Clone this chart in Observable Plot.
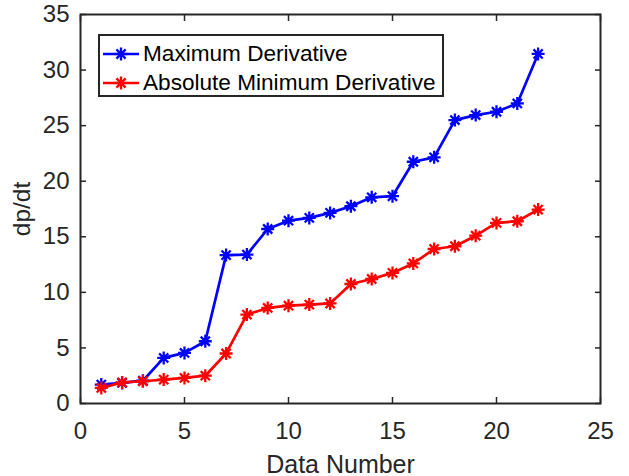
<!DOCTYPE html>
<html>
<head>
<meta charset="utf-8">
<script src="https://cdn.jsdelivr.net/npm/d3@7"></script>
<script src="https://cdn.jsdelivr.net/npm/@observablehq/plot@0.6"></script>
<style>
  body { margin: 0; background: #ffffff; }
  #wrap { position: relative; width: 629px; height: 476px; font-family: "Liberation Sans", Arial, Helvetica, sans-serif; }
  #chart svg g[aria-label="x-axis tick label"],
  #chart svg g[aria-label="y-axis tick label"] { font-size: 24px; }
  #chart svg g[aria-label="x-axis label"] { font-size: 25px; }
  #chart svg g[aria-label="y-axis label"] { font-size: 24.5px; }
  #legend { position: absolute; left: 98px; top: 34px; width: 342px; height: 59px; border: 2px solid #262626; background: #ffffff; }
  #legend .row { position: absolute; left: 0; height: 28px; display: flex; align-items: center; }
  #legend .row span { font-size: 22.6px; color: #000000; white-space: nowrap; }
</style>
</head>
<body>
<div id="wrap">
  <div id="chart"></div>
  <div id="legend"></div>
</div>
<script>
// ---- data ----
const dataNumber = [1, 2, 3, 4, 5, 6, 7, 8, 9, 10, 11, 12, 13, 14, 15, 16, 17, 18, 19, 20, 21, 22];
const maxDerivative = [1.7, 1.85, 2.05, 4.1, 4.55, 5.6, 13.35, 13.4, 15.7, 16.45, 16.7, 17.15, 17.75, 18.55, 18.65, 21.75, 22.15, 25.5, 25.95, 26.25, 27.0, 31.45];
const absMinDerivative = [1.4, 1.9, 2.0, 2.15, 2.3, 2.5, 4.5, 8.0, 8.6, 8.8, 8.9, 9.0, 10.75, 11.2, 11.75, 12.6, 13.9, 14.15, 15.1, 16.25, 16.4, 17.45];
const seriesNames = ["Maximum Derivative", "Absolute Minimum Derivative"];
const seriesColors = ["#0000ff", "#ff0000"];
const xTicks = [0, 5, 10, 15, 20, 25];
const yTicks = [0, 5, 10, 15, 20, 25, 30, 35];
const xLabel = "Data Number";
const yLabel = "dp/dt";

// ---- build table ----
const seriesValues = [maxDerivative, absMinDerivative];
const rows = seriesNames.flatMap((name, s) =>
  dataNumber.map((n, i) => ({series: name, x: n, y: seriesValues[s][i]}))
);

// MATLAB-style asterisk marker
const asterisk = {
  draw(context, size) {
    const r = Math.sqrt(size / Math.PI);
    for (let k = 0; k < 4; ++k) {
      const a = (k * Math.PI) / 4;
      const c = Math.cos(a) * r, s = Math.sin(a) * r;
      context.moveTo(c, s);
      context.lineTo(-c, -s);
    }
  }
};

const axisColor = "#262626";
const fontFamily = '"Liberation Sans", Arial, Helvetica, sans-serif';

const marks = [];
seriesNames.forEach((name, s) => {
  const d = rows.filter(r => r.series === name);
  marks.push(Plot.line(d, {x: "x", y: "y", stroke: seriesColors[s], strokeWidth: 2.7}));
  marks.push(Plot.dot(d, {x: "x", y: "y", stroke: seriesColors[s], symbol: asterisk, r: 6.5, strokeWidth: 2.3}));
});

const chart = Plot.plot({
  width: 629,
  height: 476,
  marginLeft: 80,
  marginRight: 29,
  marginTop: 14,
  marginBottom: 73,
  style: {fontFamily, fontSize: "24px", color: axisColor, background: "#ffffff", overflow: "visible"},
  x: {domain: [0, 25]},
  y: {domain: [0, 35]},
  marks: [
    // tick marks and tick labels
    Plot.axisX({anchor: "bottom", ticks: xTicks, tickSize: -6, tickPadding: 24, fontSize: 24, stroke: axisColor, fill: axisColor, strokeWidth: 1.5, label: null}),
    Plot.axisX({anchor: "top", ticks: xTicks, tickSize: -6, tickFormat: () => "", label: null, stroke: axisColor, strokeWidth: 1.5}),
    Plot.axisY({anchor: "left", ticks: yTicks, tickSize: -6, tickPadding: 17, fontSize: 24, stroke: axisColor, fill: axisColor, strokeWidth: 1.5, label: null}),
    Plot.axisY({anchor: "right", ticks: yTicks, tickSize: -6, tickFormat: () => "", label: null, stroke: axisColor, strokeWidth: 1.5}),
    // axis titles (larger type)
    Plot.axisX({anchor: "bottom", ticks: [], tickSize: 0, fontSize: 25, fill: axisColor,
      label: xLabel, labelAnchor: "center", labelArrow: "none", labelOffset: 69}),
    Plot.axisY({anchor: "left", ticks: [], tickSize: 0, fontSize: 24.5, fill: axisColor,
      label: yLabel, labelAnchor: "center", labelArrow: "none", labelOffset: 68}),
    Plot.frame({stroke: axisColor, strokeWidth: 2}),
    ...marks
  ]
});
document.getElementById("chart").appendChild(chart);

// ---- legend (inside the axes, top-left) ----
const legend = document.getElementById("legend");
seriesNames.forEach((name, s) => {
  const row = document.createElement("div");
  row.className = "row";
  row.style.top = (4 + s * 28.5) + "px";
  const svg = d3.create("svg").attr("width", 43).attr("height", 28);
  svg.append("line").attr("x1", 3).attr("x2", 39).attr("y1", 14).attr("y2", 14)
    .attr("stroke", seriesColors[s]).attr("stroke-width", 2.7);
  const r = 6.5;
  for (let k = 0; k < 4; ++k) {
    const a = (k * Math.PI) / 4;
    svg.append("line")
      .attr("x1", 21 + Math.cos(a) * r).attr("y1", 14 + Math.sin(a) * r)
      .attr("x2", 21 - Math.cos(a) * r).attr("y2", 14 - Math.sin(a) * r)
      .attr("stroke", seriesColors[s]).attr("stroke-width", 2.3);
  }
  row.appendChild(svg.node());
  const label = document.createElement("span");
  label.textContent = name;
  row.appendChild(label);
  legend.appendChild(row);
});
</script>
</body>
</html>
